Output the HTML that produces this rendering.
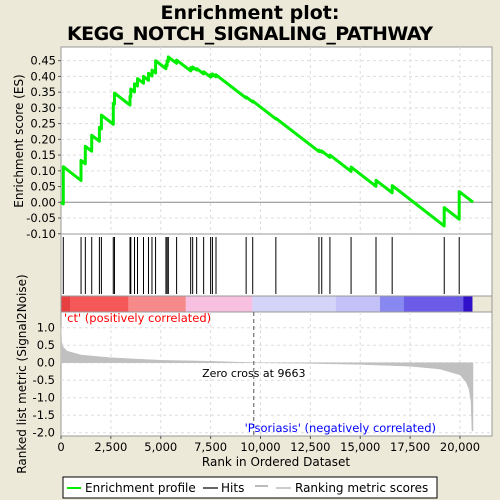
<!DOCTYPE html>
<html><head><meta charset="utf-8"><style>
html,body{margin:0;padding:0;background:#ece9d8;}
svg{display:block;font-family:"DejaVu Sans","Liberation Sans",sans-serif;}
</style></head><body>
<svg id="chart" width="500" height="500" viewBox="0 0 500 500">
<rect width="500" height="500" fill="#ece9d8"/>
<text x="250" y="19" text-anchor="middle" font-size="19" font-weight="bold">Enrichment plot:</text>
<text x="250" y="40" text-anchor="middle" font-size="19" font-weight="bold" textLength="366">KEGG_NOTCH_SIGNALING_PATHWAY</text>
<g id="gTop"></g>
<g id="gMid"></g>
<g id="gBot"></g>
<text transform="translate(23,141) rotate(-90)" text-anchor="middle" font-size="12">Enrichment score (ES)</text>
<text transform="translate(26,374) rotate(-90)" text-anchor="middle" font-size="12">Ranked list metric (Signal2Noise)</text>
<text x="276" y="466" text-anchor="middle" font-size="12">Rank in Ordered Dataset</text>
<g>
<rect x="63" y="477" width="374" height="21" fill="#fff" stroke="#000" stroke-width="1"/>
<line x1="67" y1="488" x2="81" y2="488" stroke="#00ee00" stroke-width="2"/>
<text x="85" y="492" font-size="12">Enrichment profile</text>
<line x1="203" y1="488" x2="218" y2="488" stroke="#000" stroke-width="1.2"/>
<text x="221" y="492" font-size="12">Hits</text>
<line x1="255" y1="486" x2="268" y2="486" stroke="#777" stroke-width="1"/>
<line x1="276" y1="488" x2="291" y2="488" stroke="#bbb" stroke-width="1.5"/>
<text x="295" y="492" font-size="12">Ranking metric scores</text>
</g>
</svg>
<script>
const hitRanks=[115,1005,1220,1540,1925,2025,2620,2680,3460,3500,3685,3835,4135,4385,4560,4740,5260,5320,5380,5795,6500,6600,6800,7150,7500,7590,7770,9280,9610,10770,12930,13070,13480,14540,15790,16600,19210,19960];
const esAfter=[0.113,0.133,0.178,0.213,0.238,0.277,0.315,0.347,0.337,0.360,0.377,0.393,0.400,0.410,0.420,0.450,0.437,0.450,0.462,0.452,0.428,0.430,0.425,0.415,0.405,0.408,0.405,0.335,0.322,0.267,0.166,0.163,0.150,0.112,0.070,0.053,-0.017,0.034];
const missSlope=0.000049;
const totalRanks=20650;
const esTicks=[-0.10,-0.05,0.00,0.05,0.10,0.15,0.20,0.25,0.30,0.35,0.40,0.45];
const metricRanks=[0,30,100,300,1000,2500,5000,7500,9663,12500,15000,17500,19000,20000,20300,20450,20550,20600,20650];
const metricVals=[1.0,0.6,0.45,0.33,0.22,0.14,0.07,0.04,0.0,-0.02,-0.05,-0.1,-0.18,-0.35,-0.55,-0.75,-1.1,-1.95,-1.95];
const metricTicks=[-2.0,-1.5,-1.0,-0.5,0.0,0.5,1.0];
const xTicks=[0,2500,5000,7500,10000,12500,15000,17500,20000];
const xTickLabels=["0","2,500","5,000","7,500","10,000","12,500","15,000","17,500","20,000"];
const zeroCross=9663;
const barStops=[0,450,3370,6250,9590,13780,15990,17190,20170,20600];
const barColors=["#e84040","#f45858","#f68a8a","#f8c0e0","#d4d4f8","#c4c0f8","#8888f0","#6b5ce8","#3010c8"];

const NS="http://www.w3.org/2000/svg";
const L=61,R=492;
const sx=r=>L+r*0.01995;
const yES=v=>202.3-v*314.7;
const yM=v=>362.7-v*35;
function mk(tag,attrs,parent){const e=document.createElementNS(NS,tag);for(const k in attrs)e.setAttribute(k,attrs[k]);parent.appendChild(e);return e;}
const gTop=document.getElementById('gTop'),gMid=document.getElementById('gMid'),gBot=document.getElementById('gBot');

let p=mk('rect',{x:L,y:47,width:R-L,height:187,fill:'#fff',stroke:'#999'},gTop);


xTicks.forEach((t,i)=>{if(i>0){let g=mk('line',{x1:sx(t),x2:sx(t),y1:47,y2:234,stroke:'#ddd','stroke-dasharray':'3,3'},gTop);

}});
esTicks.forEach(t=>{
 if(t!==0&&t>-0.1){let g=mk('line',{x1:L,x2:R,y1:yES(t),y2:yES(t),stroke:'#ddd','stroke-dasharray':'3,3'},gTop);
 
 }
 let tk=mk('line',{x1:L-3,x2:L,y1:yES(t),y2:yES(t),stroke:'#555'},gTop);
 
 
 let tx=mk('text',{x:L-5,y:yES(t)+4,'text-anchor':'end','font-size':11.5},gTop);tx.textContent=t.toFixed(2);
 
 
});
let zl=mk('line',{x1:L,x2:R,y1:yES(0),y2:yES(0),stroke:'#888'},gTop);


let pts=[[0,0],[hitRanks[0],-0.005]];
hitRanks.forEach((r,i)=>{let before=i===0?-0.005:esAfter[i-1]-missSlope*(r-hitRanks[i-1]);pts.push([r,before]);pts.push([r,esAfter[i]]);});
pts.push([totalRanks,esAfter[esAfter.length-1]-missSlope*(totalRanks-hitRanks[hitRanks.length-1])]);
let es=mk('polyline',{points:pts.map(q=>sx(q[0]).toFixed(1)+','+yES(q[1]).toFixed(1)).join(' '),fill:'none',stroke:'#00ee00','stroke-width':3,'stroke-linejoin':'round'},gTop);



let hp=mk('rect',{x:L,y:234,width:R-L,height:62,fill:'#fff',stroke:'#999'},gMid);


hitRanks.forEach(r=>{let h=mk('line',{x1:sx(r),x2:sx(r),y1:237,y2:294,stroke:'#000','stroke-width':1},gMid);

});
barColors.forEach((c,i)=>{let x0=sx(barStops[i]),x1=sx(barStops[i+1]);
let b=mk('rect',{x:x0,y:296,width:x1-x0+0.5,height:16,fill:c},gMid);

});
let cb=mk('rect',{x:L,y:296,width:R-L,height:16,fill:'none',stroke:'#999'},gMid);



let bp=mk('rect',{x:L,y:312,width:R-L,height:124,fill:'#fff',stroke:'#999'},gBot);


xTicks.forEach((t,i)=>{
 if(i>0){let g=mk('line',{x1:sx(t),x2:sx(t),y1:312,y2:436,stroke:'#ddd','stroke-dasharray':'3,3'},gBot);
 
 }
 let tk=mk('line',{x1:sx(t),x2:sx(t),y1:436,y2:439,stroke:'#555'},gBot);
 
 
 let tx=mk('text',{x:sx(t),y:451,'text-anchor':'middle','font-size':11.5},gBot);tx.textContent=xTickLabels[i];
 
 
});
metricTicks.forEach(t=>{
 let g=mk('line',{x1:L,x2:R,y1:yM(t),y2:yM(t),stroke:'#ddd','stroke-dasharray':'3,3'},gBot);
 
 
 let tx=mk('text',{x:L-6,y:yM(t)+4,'text-anchor':'end','font-size':11.5},gBot);tx.textContent=t.toFixed(1);
 
 
});
let poly=[[0,0]].concat(metricRanks.map((r,i)=>[r,metricVals[i]])).concat([[totalRanks,0]]);
let ma=mk('polygon',{points:poly.map(q=>sx(q[0]).toFixed(1)+','+yM(q[1]).toFixed(1)).join(' '),fill:'#c0c0c0',stroke:'#c0c0c0','stroke-width':0.5},gBot);


let zc=mk('line',{x1:sx(zeroCross),x2:sx(zeroCross),y1:312,y2:436,stroke:'#555','stroke-dasharray':'4,3'},gBot);


let zt=mk('text',{x:sx(zeroCross),y:377,'text-anchor':'middle','font-size':11},gBot);zt.textContent='Zero cross at '+zeroCross;


let ct=mk('text',{x:64,y:322,'font-size':11.5,fill:'#ff0000'},gBot);ct.textContent="'ct' (positively correlated)";


let ps=mk('text',{x:436,y:432,'text-anchor':'end','font-size':11.5,fill:'#0000ff'},gBot);ps.textContent="'Psoriasis' (negatively correlated)";


</script>
</body></html>
